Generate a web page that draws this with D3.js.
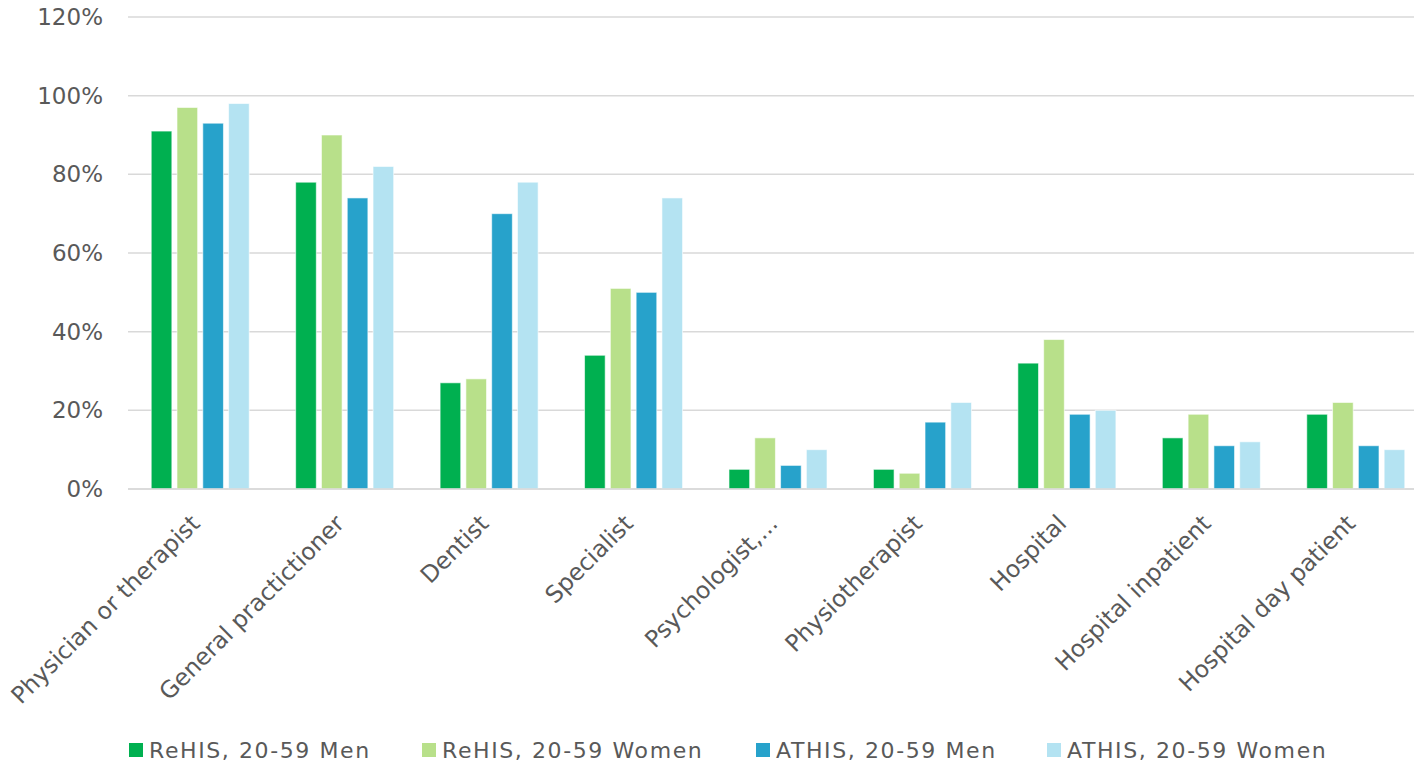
<!DOCTYPE html>
<html>
<head>
<meta charset="utf-8">
<script src="https://cdn.jsdelivr.net/npm/d3@7"></script>
<style>
  html, body { margin: 0; padding: 0; background: #fff; }
  svg { display: block; font-family: "DejaVu Sans", Verdana, sans-serif; }
</style>
</head>
<body>
<svg id="chart" width="1414" height="763"></svg>
<script>
// Share of people using each health service, by survey and sex (ages 20-59)
const categories = [
  "Physician or therapist", "General practictioner", "Dentist", "Specialist",
  "Psychologist,...", "Physiotherapist", "Hospital", "Hospital inpatient", "Hospital day patient"
];
const seriesNames = [
  "ReHIS, 20-59 Men", "ReHIS, 20-59 Women", "ATHIS, 20-59 Men", "ATHIS, 20-59 Women"
];
const rehisMen   = [91, 78, 27, 34, 5, 5, 32, 13, 19];
const rehisWomen = [97, 90, 28, 51, 13, 4, 38, 19, 22];
const athisMen   = [93, 74, 70, 50, 6, 17, 19, 11, 11];
const athisWomen = [98, 82, 78, 74, 10, 22, 20, 12, 10];
const yTicks = [0, 20, 40, 60, 80, 100, 120];

const seriesValues = [rehisMen, rehisWomen, athisMen, athisWomen];
const colors = ["#00B050", "#B8E08A", "#27A2CB", "#B4E3F2"];

const svg = d3.select("#chart");
const W = 1414;
const plotLeft = 128, plotRight = 1428;   // band layout width; gridlines stop at the frame edge
const plotTop = 17, y0 = 489;
const textColor = "#595959";

const x = d3.scaleBand().domain(categories).range([plotLeft, plotRight]);
const xInner = d3.scaleBand().domain(seriesNames).range([0, x.bandwidth()]).paddingInner(0.2).paddingOuter(0.9);
const y = d3.scaleLinear().domain([0, 120]).range([y0, plotTop]);

// gridlines
svg.append("g")
  .selectAll("line")
  .data(yTicks)
  .join("line")
  .attr("x1", plotLeft).attr("x2", W)
  .attr("y1", d => y(d)).attr("y2", d => y(d))
  .attr("stroke", "#D9D9D9").attr("stroke-width", 1.5);

// y axis labels
const yAxis = svg.append("g")
  .attr("transform", `translate(${plotLeft},0)`)
  .call(d3.axisLeft(y).tickValues(yTicks).tickFormat(d => d + "%").tickSize(0).tickPadding(25));
yAxis.select(".domain").remove();
yAxis.selectAll("text")
  .attr("font-family", "DejaVu Sans, Verdana, sans-serif")
  .attr("font-size", 23).attr("fill", textColor);

// bars
const groups = svg.append("g").selectAll("g")
  .data(categories)
  .join("g")
  .attr("transform", d => `translate(${x(d)},0)`);

groups.selectAll("rect")
  .data((c, i) => seriesNames.map((s, k) => ({ s, k, v: seriesValues[k][i] })))
  .join("rect")
  .attr("x", d => xInner(d.s))
  .attr("width", xInner.bandwidth())
  .attr("y", d => y(d.v))
  .attr("height", d => y0 - y(d.v))
  .attr("fill", d => colors[d.k])
  .attr("stroke", "#ffffff").attr("stroke-opacity", 0.6).attr("stroke-width", 1);

// baseline
svg.append("line")
  .attr("x1", plotLeft).attr("x2", W)
  .attr("y1", y0).attr("y2", y0)
  .attr("stroke", "#D9D9D9").attr("stroke-width", 1.5);

// category labels, rotated
svg.append("g").selectAll("text")
  .data(categories)
  .join("text")
  .attr("transform", d => `translate(${x(d) + x.bandwidth() / 2 + 1},${y0 + 36}) rotate(-45)`)
  .attr("text-anchor", "end")
  .attr("font-size", 23.5)
  .attr("fill", textColor)
  .text(d => d);

// legend
const legendX = [129, 422, 756, 1047];
const legend = svg.append("g").selectAll("g")
  .data(seriesNames)
  .join("g")
  .attr("transform", (d, i) => `translate(${legendX[i]},743)`);
legend.append("rect")
  .attr("width", 14).attr("height", 14)
  .attr("fill", (d, i) => colors[i]);
legend.append("text")
  .attr("x", 20).attr("y", 15)
  .attr("font-size", 22)
  .attr("letter-spacing", 1.6)
  .attr("fill", textColor)
  .text(d => d);
</script>
</body>
</html>
